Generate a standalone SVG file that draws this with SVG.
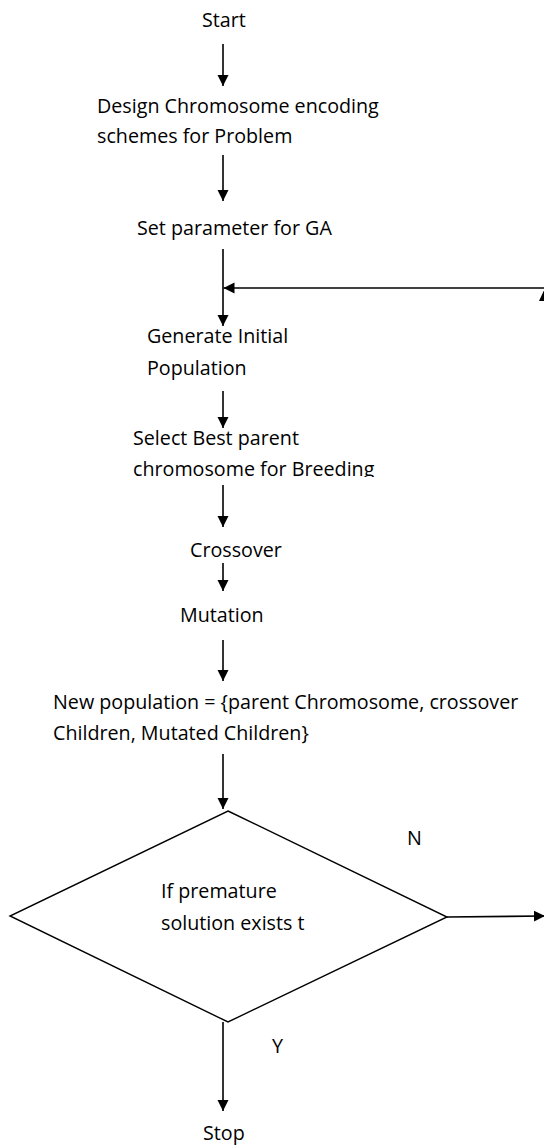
<svg xmlns="http://www.w3.org/2000/svg" width="544" height="1146" viewBox="0 0 544 1146">
  <style>
    .lbl { font-family: "Open Sans", "Noto Sans", "DejaVu Sans", sans-serif; font-size: 19.7px; fill: #000; }
    .wire { stroke: #000; stroke-width: 1.6; fill: none; }
    .shape { stroke: #000; stroke-width: 1.4; fill: #fff; }
  </style>
  <defs>
    <marker id="head" markerUnits="userSpaceOnUse" markerWidth="12" markerHeight="12" viewBox="0 0 12 12" refX="11" refY="6" orient="auto">
      <path d="M0,0.5 L11,6 L0,11.5 Z" fill="#000"/>
    </marker>
    <clipPath id="cut-breeding">
      <rect x="0" y="420" width="544" height="57"/>
    </clipPath>
  </defs>
  <rect width="544" height="1146" fill="#fff"/>

  <g id="connectors">
    <line class="wire" x1="223" y1="44" x2="223" y2="86" marker-end="url(#head)"/>
    <line class="wire" x1="223" y1="155" x2="223" y2="201" marker-end="url(#head)"/>
    <line class="wire" x1="223" y1="249" x2="223" y2="326" marker-end="url(#head)"/>
    <line class="wire" x1="544" y1="288" x2="223.5" y2="288" marker-end="url(#head)"/>
    <polygon points="546,286 539,301 553,301" fill="#000"/>
    <line class="wire" x1="223" y1="391" x2="223" y2="428" marker-end="url(#head)"/>
    <line class="wire" x1="223" y1="485" x2="223" y2="527" marker-end="url(#head)"/>
    <line class="wire" x1="223" y1="563" x2="223" y2="591" marker-end="url(#head)"/>
    <line class="wire" x1="223" y1="640" x2="223" y2="681" marker-end="url(#head)"/>
    <line class="wire" x1="223" y1="754" x2="223" y2="809" marker-end="url(#head)"/>
    <line class="wire" x1="447" y1="917" x2="545" y2="916" marker-end="url(#head)"/>
    <line class="wire" x1="223" y1="1022" x2="223" y2="1111" marker-end="url(#head)"/>
  </g>

  <g id="start">
    <text class="lbl" x="202" y="27">Start</text>
  </g>
  <g id="design-encoding">
    <text class="lbl" x="97" y="113">Design Chromosome encoding</text>
    <text class="lbl" x="97" y="143">schemes for Problem</text>
  </g>
  <g id="set-parameters">
    <text class="lbl" x="137" y="235">Set parameter for GA</text>
  </g>
  <g id="initial-population">
    <text class="lbl" x="147" y="343">Generate Initial</text>
    <text class="lbl" x="147" y="375">Population</text>
  </g>
  <g id="select-parents" clip-path="url(#cut-breeding)">
    <text class="lbl" x="133" y="445">Select Best parent</text>
    <text class="lbl" x="133" y="476">chromosome for Breeding</text>
  </g>
  <g id="crossover">
    <text class="lbl" x="190" y="557">Crossover</text>
  </g>
  <g id="mutation">
    <text class="lbl" x="180" y="622">Mutation</text>
  </g>
  <g id="new-population">
    <text class="lbl" x="53" y="709">New population = {parent Chromosome, crossover</text>
    <text class="lbl" x="53" y="740">Children, Mutated Children}</text>
  </g>
  <g id="decision">
    <polygon class="shape" points="228,811 447,917 228,1022 10,916"/>
    <text class="lbl" x="161" y="898">If premature</text>
    <text class="lbl" x="161" y="930">solution exists t</text>
  </g>
  <g id="edge-labels">
    <text class="lbl" x="407" y="845">N</text>
    <text class="lbl" x="272" y="1053">Y</text>
  </g>
  <g id="stop">
    <text class="lbl" x="203" y="1140">Stop</text>
  </g>
</svg>
